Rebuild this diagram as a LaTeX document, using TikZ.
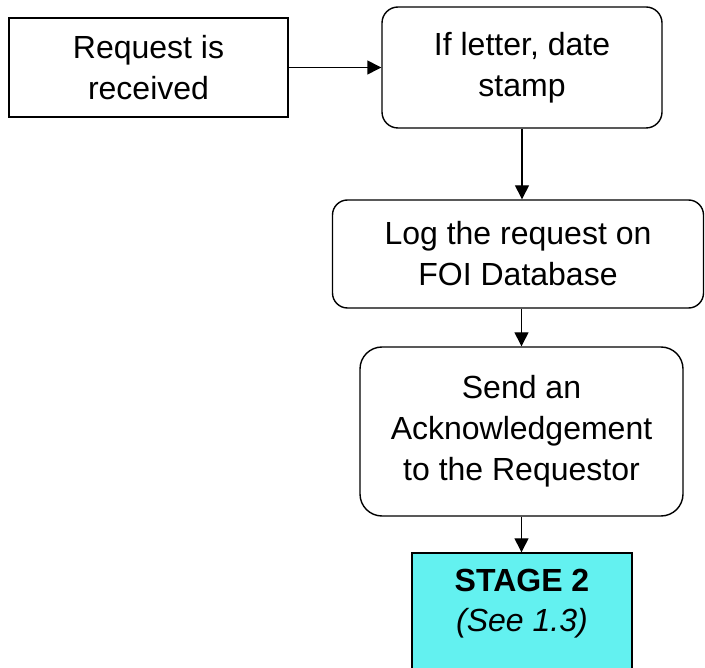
\documentclass[tikz,border=0pt]{standalone}
\usepackage{fontspec}
\setmainfont{Liberation Sans}
\usetikzlibrary{arrows.meta}
\definecolor{stagecyan}{RGB}{99,241,240}
\begin{document}
\begin{tikzpicture}[x=1pt,y=-1pt,
  box/.style={draw=black, line width=1.4pt, inner sep=0pt, align=center,
    font=\fontsize{32}{41}\selectfont},
  flow/.style={draw=black, line width=1.4pt, -{Triangle[length=14pt,width=14pt]}}]
  \useasboundingbox (0,0) rectangle (705,668);
  \clip (0,0) rectangle (705,668);

  \node[box, minimum width=279pt, minimum height=99pt] (recv) at (148.5,67.5)
    {Request is\\received};
  \node[box, rounded corners=16pt, minimum width=280pt, minimum height=121pt] (stamp) at (522,67.5)
    {If letter, date\\stamp};
  \node[box, rounded corners=15pt, minimum width=371pt, minimum height=108pt] (log) at (518,254)
    {Log the request on\\FOI Database};
  \node[box, rounded corners=22pt, minimum width=323pt, minimum height=169pt] (ack) at (521.5,431.5)
    {Send an\\Acknowledgement\\to the Requestor};
  \node[box, fill=stagecyan, minimum width=220pt, minimum height=160pt] (stage) at (522,633) {};
  \node[align=center, inner sep=0pt, font=\fontsize{32}{40}\selectfont, anchor=north] (stagetxt) at (522,569)
    {\textbf{STAGE 2}\\\textit{(See 1.3)}};

  \draw[flow] (recv.east) -- (stamp.west);
  \draw[flow] (stamp.south) -- (stamp.south |- log.north);
  \draw[flow] (ack.north |- log.south) -- (ack.north);
  \draw[flow] (ack.south) -- (ack.south |- stage.north);
\end{tikzpicture}
\end{document}
